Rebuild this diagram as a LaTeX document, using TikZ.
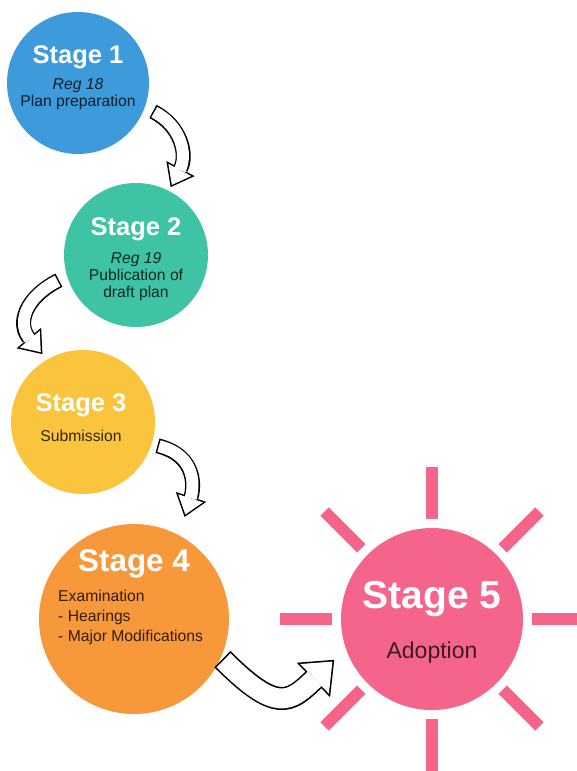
\documentclass[tikz,border=0pt]{standalone}
\usepackage{fontspec}
\setmainfont{Liberation Sans}
\usetikzlibrary{arrows.meta,calc}
\definecolor{StageBlue}{HTML}{3D9BDC}
\definecolor{StageTeal}{HTML}{3EC4A5}
\definecolor{StageGold}{HTML}{FAC43D}
\definecolor{StageOrange}{HTML}{F7983B}
\definecolor{StagePink}{HTML}{F5648A}
\tikzset{
  stagedisc/.style={circle,inner sep=0pt,draw=none},
  stagetitle/.style={text=white,font=\bfseries\fontsize{25.5}{30}\selectfont,inner sep=0pt,anchor=base},
  stagetext/.style={font=\fontsize{15.7}{17}\selectfont,align=center,inner sep=0pt,anchor=base},
  sunray/.style={draw=StagePink,line width=12pt},
  rimarrow/.style={draw=black,line width=15pt,-{Triangle[length=21pt,width=32pt,line width=0pt]}},
  corearrow/.style={draw=white,line width=12pt,-{Triangle[length=17pt,width=25.9pt,line width=0pt]}},
  bigrim/.style={draw=black,line width=23pt,-{Triangle[length=29pt,width=48pt,line width=0pt]}},
  bigcore/.style={draw=white,line width=19.8pt,-{Triangle[length=24.9pt,width=41.2pt,line width=0pt]}}
}
\begin{document}
\begin{tikzpicture}[x=1pt,y=1pt]
\useasboundingbox (0,0) rectangle (576,-771);
% rays of the sun behind stage 5
\coordinate (sun) at (432,-619);
\foreach \a in {0,45,...,315}
  \draw[sunray] ($(sun)+(\a:100)$) -- ($(sun)+(\a:152)$);
% the five stages
\node[stagedisc,fill=StageBlue,minimum size=142pt] (s1) at (78,-83) {};
\node[stagedisc,fill=StageTeal,minimum size=144pt] (s2) at (136,-255) {};
\node[stagedisc,fill=StageGold,minimum size=144pt] (s3) at (83,-422) {};
\node[stagedisc,fill=StageOrange,minimum size=190pt] (s4) at (134,-619) {};
\node[stagedisc,fill=StagePink,minimum size=182pt] (s5) at (sun) {};
% base of a multi-line text is its last line
\node[stagetitle] (t1) at ($(s1)+(0,19.7)$) {Stage 1};
\node[stagetext,text=StageBlue!20!black] (d1) at ($(s1)+(0,-23)$) {\textit{Reg 18}\\Plan preparation};
\node[stagetitle] (t2) at ($(s2)+(0,20)$) {Stage 2};
\node[stagetext,text=StageTeal!20!black] (d2) at ($(s2)+(0,-42)$) {\textit{Reg 19}\\Publication of\\draft plan};
\node[stagetitle] (t3) at ($(s3)+(-2,10.3)$) {Stage 3};
\node[stagetext,text=StageGold!20!black] (d3) at ($(s3)+(-2,-19.7)$) {Submission};
\node[stagetitle,font=\bfseries\fontsize{31.4}{36}\selectfont] (t4) at ($(s4)+(0,47.3)$) {Stage 4};
\node[stagetext,align=left,anchor=base west,font=\fontsize{15.7}{20}\selectfont,text=StageOrange!20!black] (d4) at ($(s4)+(-76,-22.7)$) {Examination\\- Hearings\\- Major Modifications};
\node[stagetitle,font=\bfseries\fontsize{39}{44}\selectfont] (t5) at ($(s5)+(0,10.7)$) {Stage 5};
\node[stagetext,font=\fontsize{23}{26}\selectfont,text=StagePink!25!black] (d5) at ($(s5)+(0,-39.3)$) {Adoption};
% bent block arrows: black rim first, white core on top
\draw[rimarrow,shorten <=9pt,shorten >=4pt] (s1.-20) to[out=-27,in=62,looseness=1.2] (s2.63);
\draw[corearrow,shorten <=10.5pt,shorten >=6.5pt] (s1.-20) to[out=-27,in=62,looseness=1.2] (s2.63);
\draw[rimarrow,shorten <=9pt,shorten >=7pt] (s2.197) to[out=207,in=130,looseness=1.4] (s3.120);
\draw[corearrow,shorten <=10.5pt,shorten >=9.5pt] (s2.197) to[out=207,in=130,looseness=1.4] (s3.120);
\draw[rimarrow,shorten <=6pt,shorten >=19pt] (s3.-18) to[out=-14,in=72,looseness=1.3] (s4.62);
\draw[corearrow,shorten <=7.5pt,shorten >=21.5pt] (s3.-18) to[out=-14,in=72,looseness=1.3] (s4.62);
\draw[bigrim,shorten <=2pt,shorten >=16pt] (s4.-24) to[out=-45,in=224,looseness=1.6] (s5.199);
\draw[bigcore,shorten <=3.6pt,shorten >=18.5pt] (s4.-24) to[out=-45,in=224,looseness=1.6] (s5.199);
\end{tikzpicture}
\end{document}
